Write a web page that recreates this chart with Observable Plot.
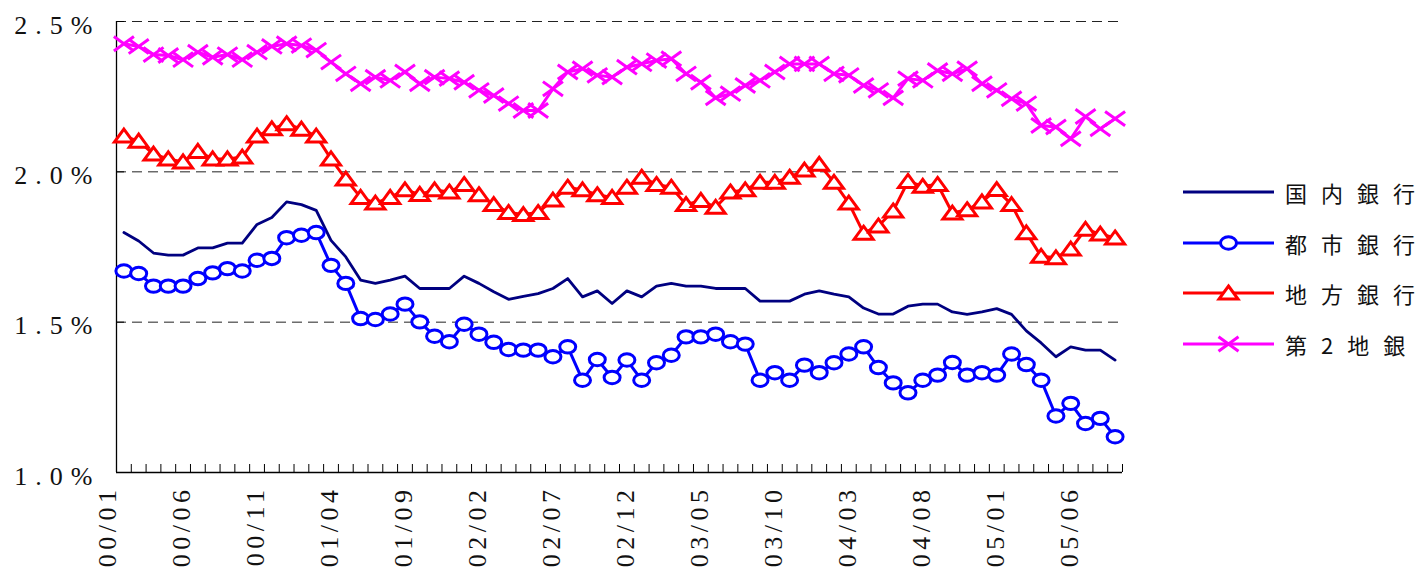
<!DOCTYPE html>
<html><head><meta charset="utf-8">
<script src="https://cdn.jsdelivr.net/npm/d3@7"></script>
<script src="https://cdn.jsdelivr.net/npm/@observablehq/plot@0.6"></script>
<style>
body{margin:0;background:#fff;}
#wrap{position:relative;width:1423px;height:569px;background:#fff;}
#chart{position:absolute;left:0;top:0;}
#legend{position:absolute;left:1178px;top:167px;font-family:"Noto Sans CJK JP";font-size:22px;color:#111;}
.row{display:flex;align-items:center;height:50.5px;}
.row span.t{margin-left:7px;white-space:nowrap;}
.row span.t span{letter-spacing:14px;}
.row span.t span.last{letter-spacing:0;}
</style></head><body>
<div id="wrap"><div id="chart"></div><div id="legend"></div></div>
<script>
// ---- data ----
const months = ["00/01","00/02","00/03","00/04","00/05","00/06","00/07","00/08","00/09","00/10","00/11","00/12",
"01/01","01/02","01/03","01/04","01/05","01/06","01/07","01/08","01/09","01/10","01/11","01/12",
"02/01","02/02","02/03","02/04","02/05","02/06","02/07","02/08","02/09","02/10","02/11","02/12",
"03/01","03/02","03/03","03/04","03/05","03/06","03/07","03/08","03/09","03/10","03/11","03/12",
"04/01","04/02","04/03","04/04","04/05","04/06","04/07","04/08","04/09","04/10","04/11","04/12",
"05/01","05/02","05/03","05/04","05/05","05/06","05/07","05/08"];
const labelMonths = ["00/01","00/06","00/11","01/04","01/09","02/02","02/07","02/12","03/05","03/10","04/03","04/08","05/01","05/06"];
const yTicks = [1.0, 1.5, 2.0, 2.5];
const gridTicks = [1.5, 2.0, 2.5];

const domestic = [1.798,1.770,1.730,1.723,1.723,1.747,1.747,1.763,1.763,1.825,1.848,1.900,1.891,1.872,1.772,1.717,
1.640,1.629,1.640,1.653,1.612,1.612,1.612,1.653,1.629,1.601,1.576,1.586,1.595,1.612,1.645,1.584,1.604,
1.562,1.604,1.584,1.620,1.629,1.620,1.620,1.612,1.612,1.612,1.570,1.570,1.570,1.593,1.604,1.593,1.584,
1.547,1.527,1.527,1.553,1.560,1.560,1.534,1.526,1.534,1.545,1.526,1.471,1.431,1.385,1.418,1.407,1.407,1.374];
const city = [1.670,1.662,1.620,1.620,1.620,1.645,1.664,1.678,1.670,1.706,1.712,1.781,1.789,1.798,1.689,1.629,
1.512,1.509,1.527,1.560,1.501,1.453,1.435,1.493,1.460,1.433,1.409,1.407,1.407,1.385,1.418,1.307,1.376,
1.316,1.374,1.307,1.365,1.390,1.451,1.451,1.460,1.435,1.427,1.307,1.332,1.307,1.357,1.332,1.365,1.394,
1.418,1.349,1.298,1.265,1.307,1.324,1.366,1.324,1.332,1.324,1.394,1.359,1.307,1.188,1.230,1.163,1.180,1.119];
const regional = [2.119,2.102,2.059,2.043,2.033,2.068,2.043,2.043,2.049,2.119,2.143,2.160,2.142,2.119,2.043,1.976,
1.915,1.896,1.915,1.940,1.925,1.940,1.933,1.958,1.924,1.891,1.865,1.858,1.865,1.906,1.949,1.940,1.924,
1.915,1.949,1.982,1.958,1.949,1.891,1.905,1.882,1.933,1.940,1.965,1.965,1.982,2.006,2.025,1.965,1.896,
1.796,1.820,1.870,1.968,1.952,1.958,1.863,1.874,1.900,1.941,1.891,1.797,1.719,1.714,1.743,1.809,1.793,1.780];
const second = [2.426,2.417,2.390,2.387,2.373,2.398,2.381,2.390,2.373,2.398,2.417,2.426,2.420,2.405,2.365,2.326,
2.293,2.315,2.304,2.332,2.293,2.315,2.310,2.298,2.271,2.254,2.227,2.204,2.204,2.276,2.332,2.343,2.321,
2.315,2.348,2.359,2.370,2.376,2.326,2.298,2.246,2.260,2.287,2.304,2.332,2.359,2.359,2.359,2.326,2.321,
2.287,2.271,2.246,2.310,2.304,2.337,2.326,2.343,2.293,2.271,2.243,2.227,2.154,2.149,2.110,2.184,2.143,2.177];

const seriesNames = ["国内銀行","都市銀行","地方銀行","第2地銀"];
const seriesColors = ["#000080","#0000FF","#FF0000","#FF00FF"];

// ---- marker symbols ----
function ellipse(ctx, rx, ry){
  const k = 0.5523;
  ctx.moveTo(rx,0);
  ctx.bezierCurveTo(rx,ry*k,rx*k,ry,0,ry);
  ctx.bezierCurveTo(-rx*k,ry,-rx,ry*k,-rx,0);
  ctx.bezierCurveTo(-rx,-ry*k,-rx*k,-ry,0,-ry);
  ctx.bezierCurveTo(rx*k,-ry,rx,-ry*k,rx,0);
  ctx.closePath();
}
const ellipseSym = {draw(ctx){ ellipse(ctx, 8, 6.2); }};
const triSym = {draw(ctx){ ctx.moveTo(0,-7); ctx.lineTo(9.5,6); ctx.lineTo(-9.5,6); ctx.closePath(); }};
const crossSym = {draw(ctx){ ctx.moveTo(-10,-7.2); ctx.lineTo(10,7.2); ctx.moveTo(-10,7.2); ctx.lineTo(10,-7.2); }};

const rows = (vals) => vals.map((v,i) => ({i, v}));
const dDom = rows(domestic), dCity = rows(city), dReg = rows(regional), dSec = rows(second);
const boundaries = d3.range(-0.5, months.length, 1);
const labelIdx = labelMonths.map(m => months.indexOf(m));

const W = 1160, H = 569, mL = 116, mR = 38, mT = 21, mB = 97;
const innerH = H - mT - mB, innerW = W - mL - mR;
const SW = 3;

const chart = Plot.plot({
  width: W, height: H,
  marginLeft: mL, marginRight: mR, marginTop: mT, marginBottom: mB,
  x: {type: "linear", domain: [-0.5, months.length - 0.5], axis: null},
  y: {domain: [1.0, 2.5], axis: null},
  style: {background: "#fff", overflow: "visible", fontFamily: "'Liberation Serif', serif", fontSize: "26px", color: "#111"},
  marks: [
    Plot.ruleY(gridTicks, {y: d => d, stroke: "#222", strokeWidth: 1, strokeDasharray: "10,6"}),
    Plot.ruleY(gridTicks, {y: d => d, stroke: "#000", strokeWidth: 1, insetRight: innerW - 8}),
    Plot.ruleX(boundaries, {x: d => d, stroke: "#000", strokeWidth: 1, insetTop: innerH - 8}),
    Plot.ruleX([-0.5], {x: d => d, stroke: "#000", strokeWidth: 1.3}),
    Plot.ruleY([1.0], {y: d => d, stroke: "#000", strokeWidth: 1.3}),
    // y tick labels
    Plot.text(yTicks, {y: d => d, frameAnchor: "left", text: d => d.toFixed(1) + "%", textAnchor: "end",
      dx: -16, dy: 4, fontSize: 26, fontFamily: "Liberation Serif", fill: "#111", className: "ylab"}),
    // x tick labels
    Plot.text(labelIdx, {x: d => d, frameAnchor: "bottom", text: d => months[d], rotate: -90, textAnchor: "end",
      dx: -8, dy: 13, fontSize: 26, fontFamily: "Liberation Serif", fill: "#111", className: "xlab"}),
    // series
    Plot.line(dDom, {x: "i", y: "v", stroke: seriesColors[0], strokeWidth: 2.8}),
    Plot.line(dCity, {x: "i", y: "v", stroke: seriesColors[1], strokeWidth: SW}),
    Plot.dot(dCity, {x: "i", y: "v", symbol: ellipseSym, r: 8, fill: "#fff", stroke: seriesColors[1], strokeWidth: SW}),
    Plot.line(dReg, {x: "i", y: "v", stroke: seriesColors[2], strokeWidth: SW}),
    Plot.dot(dReg, {x: "i", y: "v", symbol: triSym, r: 8, fill: "#fff", stroke: seriesColors[2], strokeWidth: SW}),
    Plot.line(dSec, {x: "i", y: "v", stroke: seriesColors[3], strokeWidth: SW}),
    Plot.dot(dSec, {x: "i", y: "v", symbol: crossSym, r: 8, fill: "none", stroke: seriesColors[3], strokeWidth: SW})
  ]
});
document.getElementById("chart").appendChild(chart);
// letter spacing for the axis label texts (Plot has no letterSpacing option)
chart.querySelectorAll("g.ylab text").forEach(t => t.style.letterSpacing = "8px");
chart.querySelectorAll("g.xlab text").forEach(t => t.style.letterSpacing = "4.5px");

// ---- legend ----
const markerPaths = [
  null,
  () => { const p = d3.path(); ellipse(p, 8, 6.2); return `<path d="${p}" fill="#fff" stroke="${seriesColors[1]}" stroke-width="${SW}"/>`; },
  () => { const p = d3.path(); triSym.draw(p); return `<path d="${p}" fill="#fff" stroke="${seriesColors[2]}" stroke-width="${SW}"/>`; },
  () => { const p = d3.path(); crossSym.draw(p); return `<path d="${p}" fill="none" stroke="${seriesColors[3]}" stroke-width="${SW}"/>`; }
];
const legend = document.getElementById("legend");
seriesNames.forEach((name, k) => {
  const row = document.createElement("div");
  row.className = "row";
  const mk = markerPaths[k] ? `<g transform="translate(50.5,12)">${markerPaths[k]()}</g>` : "";
  const chars = Array.from(name);
  const txt = `<span>${chars.slice(0, -1).join("")}</span><span class="last">${chars[chars.length - 1]}</span>`;
  row.innerHTML = `<svg width="100" height="24" style="overflow:visible"><line x1="5" x2="96" y1="12" y2="12" stroke="${seriesColors[k]}" stroke-width="${k === 0 ? 2.8 : SW}"/>${mk}</svg><span class="t">${txt}</span>`;
  legend.appendChild(row);
});
</script>
</body></html>
